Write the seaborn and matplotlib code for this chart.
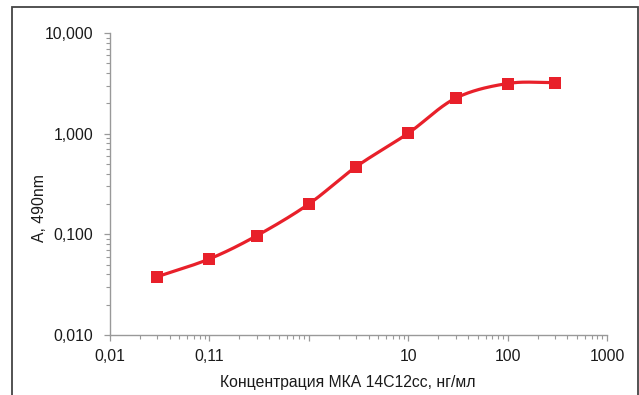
import numpy as np
import matplotlib
matplotlib.use("Agg")
import matplotlib.pyplot as plt
import matplotlib.ticker as mticker
from matplotlib.patches import Rectangle
import seaborn as sns
import pandas as pd

# Data
conc = [0.03, 0.1, 0.3, 1, 3, 10, 30, 100, 300]
absorb = [0.038, 0.057, 0.097, 0.20, 0.47, 1.01, 2.25, 3.15, 3.22]
x_ticks = [0.01, 0.1, 1, 10, 100, 1000]
x_labels = ["0,01", "0,11", "", "10", "100", "1000"]
y_ticks = [0.01, 0.1, 1, 10]
y_labels = ["0,010", "0,100", "1,000", "10,000"]
x_title = "Концентрация МКА 14С12сс, нг/мл"
y_title = "A, 490nm"

sns.set_theme(style="white")
plt.rcParams['font.family'] = ['Liberation Sans', 'DejaVu Sans']

RED = "#E8202A"
FS = 11.3
fig = plt.figure(figsize=(6.39, 3.95), dpi=100)
W, H = 639, 395
ax = fig.add_axes([110 / W, (H - 335) / H, (607 - 110) / W, (335 - 33) / H])

# smoothed line (Catmull-Rom in log space) for display
lx = np.log10(conc)
ly = np.log10(absorb)
px = np.concatenate([[2 * lx[0] - lx[1]], lx, [2 * lx[-1] - lx[-2]]])
py = np.concatenate([[2 * ly[0] - ly[1]], ly, [2 * ly[-1] - ly[-2]]])
sx, sy = [], []
t = np.linspace(0, 1, 30)
for i in range(1, len(px) - 2):
    p0, p1, p2, p3 = px[i - 1], px[i], px[i + 1], px[i + 2]
    q0, q1, q2, q3 = py[i - 1], py[i], py[i + 1], py[i + 2]
    cx = 0.5 * ((2 * p1) + (-p0 + p2) * t + (2 * p0 - 5 * p1 + 4 * p2 - p3) * t**2 + (-p0 + 3 * p1 - 3 * p2 + p3) * t**3)
    cy = 0.5 * ((2 * q1) + (-q0 + q2) * t + (2 * q0 - 5 * q1 + 4 * q2 - q3) * t**2 + (-q0 + 3 * q1 - 3 * q2 + q3) * t**3)
    sx.extend(cx); sy.extend(cy)
smooth = pd.DataFrame({"x": 10 ** np.array(sx), "y": 10 ** np.array(sy)})
df = pd.DataFrame({"x": conc, "y": absorb})

ax.set_xscale("log")
ax.set_yscale("log")
sns.lineplot(data=smooth, x="x", y="y", ax=ax, color=RED, lw=2.3, sort=False, estimator=None)
sns.scatterplot(data=df, x="x", y="y", ax=ax, color=RED, marker="s", s=85, edgecolor=RED, linewidth=0, zorder=5)

ax.set_xlim(0.01, 1000)
ax.set_ylim(0.01, 10)
ax.xaxis.set_major_locator(mticker.FixedLocator(x_ticks))
ax.xaxis.set_major_formatter(mticker.FixedFormatter(x_labels))
ax.yaxis.set_major_locator(mticker.FixedLocator(y_ticks))
ax.yaxis.set_major_formatter(mticker.FixedFormatter(y_labels))
ax.xaxis.set_minor_locator(mticker.LogLocator(base=10, subs=np.arange(2, 10), numticks=20))
ax.yaxis.set_minor_locator(mticker.LogLocator(base=10, subs=np.arange(2, 10), numticks=20))
ax.xaxis.set_minor_formatter(mticker.NullFormatter())
ax.yaxis.set_minor_formatter(mticker.NullFormatter())

for s in ["top", "right"]:
    ax.spines[s].set_visible(False)
for s in ["left", "bottom"]:
    ax.spines[s].set_color("#999999")
    ax.spines[s].set_linewidth(1.0)

ax.tick_params(which="major", direction="out", length=4, width=0.9, color="#999999",
               labelsize=FS, labelcolor="#1a1a1a", pad=8, left=True, bottom=True)
ax.tick_params(which="minor", direction="out", length=3, width=0.8, color="#999999", left=True, bottom=True)
ax.tick_params(axis="x", pad=6)
ax.set_xlabel(x_title, fontsize=FS, color="#1a1a1a", va="center")
ax.set_ylabel(y_title, fontsize=FS, color="#1a1a1a", va="center")
ax.xaxis.set_label_coords((347.5 - 110) / 497, (335 - 382) / 302)
ax.yaxis.set_label_coords((40 - 110) / 497, (335 - 208) / 302)
ax.grid(False)

fig.patches.append(Rectangle((12 / W, -0.1), (638 - 12) / W, (H - 7) / H + 0.1,
                             transform=fig.transFigure, fill=False, edgecolor="#444444", lw=1.3))

fig.savefig("out.png", dpi=100)
